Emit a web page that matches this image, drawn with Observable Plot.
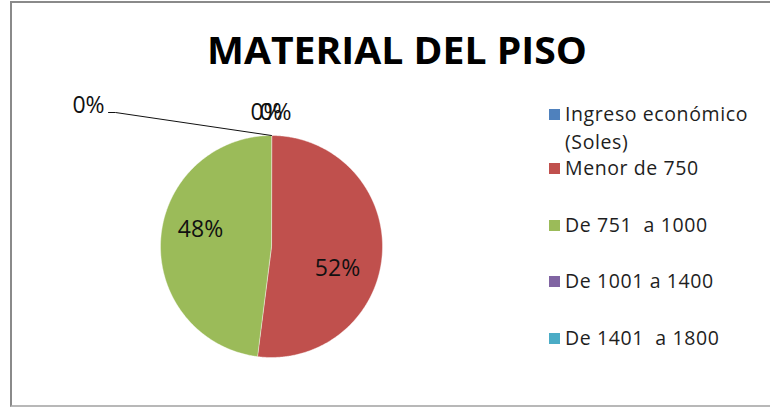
<!DOCTYPE html>
<html><head><meta charset="utf-8">
<script src="https://cdn.jsdelivr.net/npm/d3@7"></script>
<script src="https://cdn.jsdelivr.net/npm/@observablehq/plot@0.6"></script>
<style>
html,body{margin:0;padding:0;background:#fff;overflow:hidden}
#wrap{position:relative;width:770px;height:407px;overflow:hidden;font-family:"Open Sans",sans-serif}
#frame{position:absolute;left:10px;top:1px;width:800px;height:402px;border-left:2px solid #8a8a8a;border-top:2px solid #8a8a8a;border-bottom:2px solid #b8b8b8}
#chart,#overlay{position:absolute;left:0;top:0}
</style></head><body>
<div id="wrap"><div id="frame"></div><div id="chart"></div><svg id="overlay" width="770" height="407"></svg></div>
<script>
// ---- data ----
const chartTitle = "MATERIAL DEL PISO";
const categories = ["Ingreso económico (Soles)", "Menor de 750", "De 751  a 1000", "De 1001 a 1400", "De 1401  a 1800"];
const legendLines = [["Ingreso económico", "(Soles)"], ["Menor de 750"], ["De 751  a 1000"], ["De 1001 a 1400"], ["De 1401  a 1800"]];
const values = [0, 52, 48, 0, 0];
const colors = ["#4F81BD", "#C0504D", "#9BBB59", "#8064A2", "#4BACC6"];

// ---- layout (pixels) ----
const cx = 271, cy = 246, r = 111;
const labelAt = [[88, 105], [337, 268], [200, 229], [266, 112], [275, 112]];
const leaderPx = [[108, 112], [115, 112], [271, 135]];
const legendBaselines = [[121, 149], [175], [232], [288], [345]];

const toU = ([px, py]) => ({x: (px - cx) / r, y: (cy - py) / r});

// pie geometry from values (angles start at 12 o'clock, clockwise)
const arcs = d3.pie().sort(null).value(d => d)(values);
const slicePts = [];
arcs.forEach((a, i) => {
  if (a.endAngle - a.startAngle <= 0) return;
  const cat = categories[i];
  slicePts.push({x: 0, y: 0, cat});
  const n = Math.max(2, Math.ceil((a.endAngle - a.startAngle) / (Math.PI / 360)));
  for (let k = 0; k <= n; k++) {
    const t = a.startAngle + (a.endAngle - a.startAngle) * k / n;
    slicePts.push({x: Math.sin(t), y: Math.cos(t), cat});
  }
});

const total = d3.sum(values);
const labels = values.map((v, i) => ({...toU(labelAt[i]), t: Math.round(v / total * 100) + "%"}));
const leader = leaderPx.map(toU);

const plot = Plot.plot({
  width: 770, height: 407, margin: 0,
  x: {domain: [-1, 1], range: [cx - r, cx + r], axis: null},
  y: {domain: [-1, 1], range: [cy + r, cy - r], axis: null},
  color: {domain: categories, range: colors},
  style: {background: "transparent", overflow: "visible"},
  marks: [
    Plot.line(slicePts, {x: "x", y: "y", z: "cat", fill: "cat", stroke: "#ffffff", strokeWidth: 0.6, strokeOpacity: 0.7, curve: "linear-closed"}),
    Plot.line(leader, {x: "x", y: "y", stroke: "#111", strokeWidth: 1, curve: "linear"}),
    Plot.text(labels, {x: "x", y: "y", text: "t", fontSize: 23, fill: "#111", fontFamily: "Open Sans"})
  ]
});
document.getElementById("chart").append(plot);

// title and legend
const svg = d3.select("#overlay");
svg.append("text").attr("x", 397).attr("y", 64).attr("text-anchor", "middle")
  .attr("font-family", "Open Sans").attr("font-weight", 700).attr("font-size", 37)
  .attr("textLength", 380).attr("lengthAdjust", "spacingAndGlyphs").attr("fill", "#000")
  .text(chartTitle);
legendLines.forEach((lines, i) => {
  const b0 = legendBaselines[i][0];
  svg.append("rect").attr("x", 549).attr("y", b0 - 12).attr("width", 11).attr("height", 11).attr("fill", colors[i]);
  lines.forEach((ln, j) => {
    svg.append("text").attr("x", 565).attr("y", legendBaselines[i][j])
      .attr("font-family", "Open Sans").attr("font-size", 19.5).attr("letter-spacing", 0.6)
      .attr("fill", "#1e1e1e").attr("xml:space", "preserve").style("white-space", "pre").text(ln);
  });
});
</script>
</body></html>
